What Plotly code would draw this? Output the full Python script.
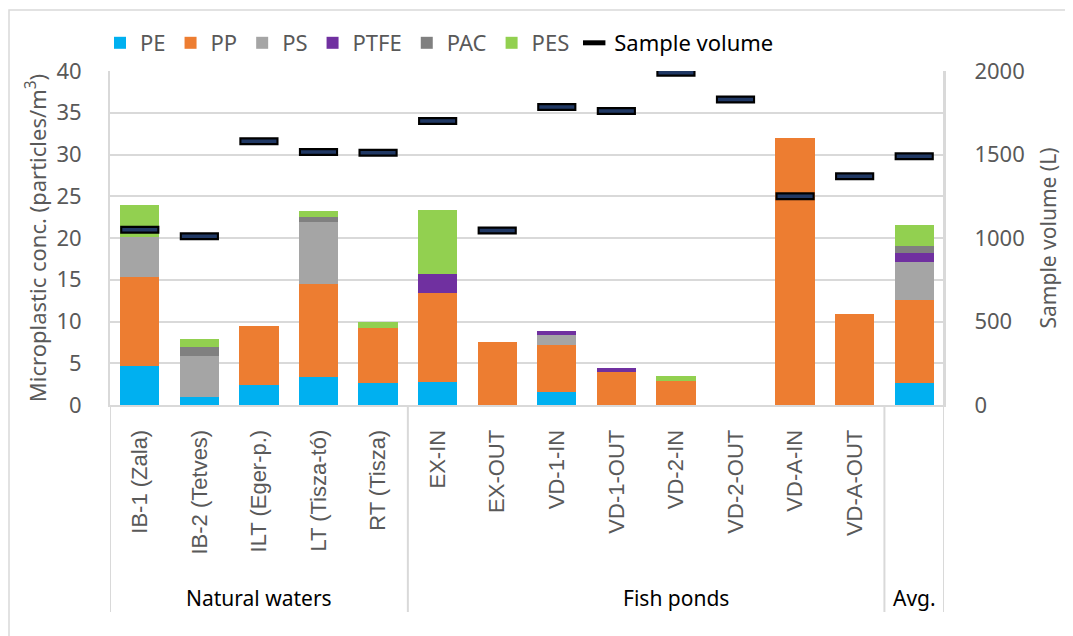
import plotly.graph_objects as go

groups = ["Natural waters"] * 5 + ["Fish ponds"] * 8 + ["Avg."]
sites = ["IB-1 (Zala)", "IB-2 (Tetves)", "ILT (Eger-p.)", "LT (Tisza-tó)", "RT (Tisza)",
         "EX-IN", "EX-OUT", "VD-1-IN", "VD-1-OUT", "VD-2-IN", "VD-2-OUT",
         "VD-A-IN", "VD-A-OUT", " "]
PE = [4.7, 0.9, 2.4, 3.3, 2.6, 2.8, 0, 1.6, 0, 0, 0, 0, 0, 2.6]
PP = [10.6, 0, 7.1, 11.2, 6.6, 10.6, 7.6, 5.6, 3.9, 2.9, 0, 32.0, 10.9, 9.95]
PS = [4.8, 5.0, 0, 7.4, 0, 0, 0, 1.15, 0, 0, 0, 0, 0, 4.55]
PTFE = [0, 0, 0, 0, 0, 2.3, 0, 0.55, 0.55, 0, 0, 0, 0, 1.1]
PAC = [0, 1.0, 0, 0.6, 0, 0, 0, 0, 0, 0, 0, 0, 0, 0.85]
PES = [3.8, 1.0, 0, 0.7, 0.7, 7.6, 0, 0, 0, 0.55, 0, 0, 0, 2.45]
volume = [1050, 1010, 1580, 1515, 1510, 1700, 1045, 1785, 1760, 1990, 1830, 1250, 1370, 1490]

series = [("PE", PE, "#00B0F0"), ("PP", PP, "#ED7D31"), ("PS", PS, "#A5A5A5"),
          ("PTFE", PTFE, "#7030A0"), ("PAC", PAC, "#808080"), ("PES", PES, "#92D050")]

GRID = "#D9D9D9"
TXT = "#595959"
FONT = "Noto Sans, Open Sans, sans-serif"

fig = go.Figure()
for name, vals, col in series:
    fig.add_trace(go.Bar(x=sites, y=vals, name=name, marker=dict(color=col, line=dict(width=0))))

fig.add_trace(go.Scatter(x=sites, y=volume, yaxis="y2", mode="markers",
                         name='<span style="color:black">Sample volume</span>',
                         marker=dict(symbol="line-ew", size=28, color="black",
                                     line=dict(width=8, color="black"))))
fig.add_trace(go.Scatter(x=sites, y=volume, yaxis="y2", mode="markers", showlegend=False,
                         marker=dict(symbol="line-ew", size=25, color="#203864",
                                     line=dict(width=3.5, color="#203864"))))

# target plot-area box in the screenshot (page body adds an 8px offset)
OFF = 8
L, T, R, B = 110, 71, 944, 405
W, H = 1073 - OFF, 636 - OFF
pw, ph = R - L, B - T

def py(ypix):
    return (B - ypix) / ph

def px(xpix):
    return (xpix - L) / pw

shapes = []
for xv, ytop in [(-0.5, 0), (4.5, 0), (12.5, 0), (13.5, 1)]:
    shapes.append(dict(type="line", xref="x", yref="paper", x0=xv, x1=xv,
                       y0=ytop, y1=py(612), line=dict(color=GRID, width=2)))
shapes.append(dict(type="rect", xref="paper", yref="paper", x0=px(9), x1=px(1200),
                   y0=py(800), y1=py(10), line=dict(color=GRID, width=1.5)))

annotations = []
for label, xc in [("Natural waters", 2), ("Fish ponds", 9), ("Avg.", 13)]:
    annotations.append(dict(text=label, x=xc, xref="x", y=py(598), yref="paper",
                            showarrow=False, font=dict(family=FONT, size=21, color="black"),
                            xanchor="center", yanchor="middle"))

fig.update_layout(
    width=W, height=H,
    margin=dict(l=L - OFF, r=W - (R - OFF), t=T - OFF, b=H - (B - OFF), autoexpand=False),
    barmode="stack", bargap=0.34,
    plot_bgcolor="white", paper_bgcolor="white",
    font=dict(family=FONT, color=TXT),
    legend=dict(orientation="h", x=px(100), y=py(22), xanchor="left", yanchor="top",
                font=dict(family=FONT, size=22, color=TXT), itemwidth=30,
                traceorder="normal", tracegroupgap=0, bgcolor="rgba(0,0,0,0)"),
    xaxis=dict(type="category", tickangle=-90, showgrid=False, automargin=False,
               showline=True, linecolor=GRID, linewidth=2,
               tickfont=dict(family="Liberation Sans, Arial, sans-serif", size=22, color=TXT),
               ticks="", ticklabelstandoff=14, range=[-0.5, 13.5]),
    yaxis=dict(range=[0, 40], dtick=5, showgrid=True, gridcolor=GRID, gridwidth=2,
               showline=True, linecolor=GRID, linewidth=2, zeroline=False, automargin=False,
               tickfont=dict(family=FONT, size=22, color=TXT), ticklabelstandoff=22,
               title=dict(text="Microplastic conc. (particles/m<sup>3</sup>)",
                          font=dict(family=FONT, size=22, color=TXT), standoff=4)),
    yaxis2=dict(range=[0, 2000], dtick=500, overlaying="y", side="right", automargin=False,
                showgrid=False, showline=True, linecolor=GRID, linewidth=2, zeroline=False,
                tickfont=dict(family=FONT, size=22, color=TXT), ticklabelstandoff=24,
                title=dict(text="Sample volume (L)",
                           font=dict(family=FONT, size=21, color=TXT), standoff=18)),
    shapes=shapes, annotations=annotations,
)

fig.write_html("out.html")
